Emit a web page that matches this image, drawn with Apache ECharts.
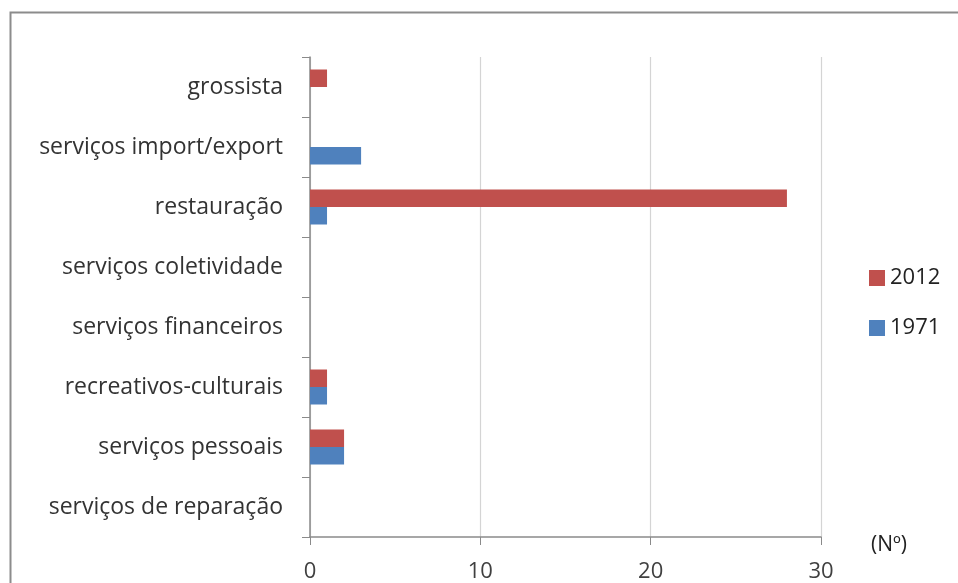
<!DOCTYPE html>
<html>
<head>
<meta charset="utf-8">
<script src="https://cdn.jsdelivr.net/npm/echarts@6/dist/echarts.min.js"></script>
<style>
  html, body { margin: 0; padding: 0; background: #fff; }
  #chart { width: 958px; height: 583px; }
</style>
</head>
<body>
<div id="chart"></div>
<script>
// Activity categories, listed top to bottom
const categories = [
  'grossista',
  'serviços import/export',
  'restauração',
  'serviços coletividade',
  'serviços financeiros',
  'recreativos-culturais',
  'serviços pessoais',
  'serviços de reparação'
];
const values2012 = [1, 0, 28, 0, 0, 1, 2, 0];
const values1971 = [0, 3, 1, 0, 0, 1, 2, 0];
const xTicks = [0, 10, 20, 30];

const FONT = '"Open Sans", "Noto Sans", sans-serif';

const chart = echarts.init(document.getElementById('chart'), null, { renderer: 'canvas' });
chart.setOption({
  animation: false,
  backgroundColor: '#ffffff',
  grid: { left: 310, right: 137, top: 57, bottom: 46, containLabel: false },
  legend: {
    orient: 'vertical',
    left: 869,
    top: 267,
    padding: 0,
    itemWidth: 16,
    itemHeight: 16,
    itemGap: 28,
    icon: 'rect',
    textStyle: { fontFamily: FONT, fontSize: 22, color: '#222' },
    data: ['2012', '1971']
  },
  xAxis: {
    type: 'value',
    min: xTicks[0],
    max: xTicks[xTicks.length - 1],
    interval: 10,
    axisLine: { show: true, lineStyle: { color: '#8a8a8a', width: 1.5 } },
    axisTick: { show: true, length: 8, lineStyle: { color: '#8a8a8a' } },
    axisLabel: { margin: 24, fontFamily: FONT, fontSize: 22, color: '#404040' },
    splitLine: { show: true, lineStyle: { color: '#d4d4d4', width: 1.2 } }
  },
  yAxis: {
    type: 'category',
    inverse: true,
    data: categories,
    axisLine: { show: true, lineStyle: { color: '#8a8a8a', width: 1.5 } },
    axisTick: { show: true, length: 8, lineStyle: { color: '#8a8a8a' } },
    axisLabel: { margin: 27, fontFamily: FONT, fontSize: 23, color: '#333' },
    splitLine: { show: false }
  },
  series: [
    {
      name: '2012',
      type: 'bar',
      data: values2012,
      barWidth: 17.5,
      barGap: '0%',
      itemStyle: { color: '#c0504d' }
    },
    {
      name: '1971',
      type: 'bar',
      data: values1971,
      barWidth: 17.5,
      barGap: '0%',
      itemStyle: { color: '#4f81bd' }
    }
  ],
  graphic: [
    {
      type: 'rect',
      shape: { x: 10.5, y: 12.5, width: 990, height: 640 },
      style: { fill: 'none', stroke: '#8c8c8c', lineWidth: 2 },
      silent: true
    },
    {
      type: 'text',
      left: 871,
      top: 535,
      style: { text: '(Nº)', fontFamily: FONT, fontSize: 21, fill: '#222' }
    }
  ]
});
</script>
</body>
</html>
